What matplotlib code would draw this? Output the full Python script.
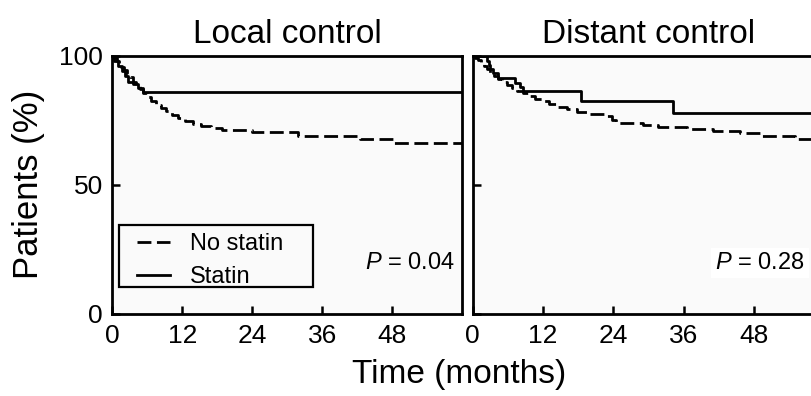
import matplotlib
matplotlib.use('Agg')
import matplotlib.pyplot as plt
from matplotlib.patches import Rectangle

plt.rcParams['font.family'] = ['Liberation Sans', 'DejaVu Sans']
plt.rcParams['mathtext.fontset'] = 'custom'
plt.rcParams['mathtext.rm'] = 'Liberation Sans'
plt.rcParams['mathtext.it'] = 'Liberation Sans:italic'

# follow-up end (months)
follow_up = 60

# Local control, Kaplan-Meier steps (months, % patients)
lc_nostatin_t = [0, 0.3, 0.7, 1.1, 1.5, 2.0, 2.5, 3.0, 3.5, 4.1, 4.7, 5.3, 6.0, 6.7, 7.5,
                 8.3, 9.2, 10.2, 11.3, 12.5, 13.8, 15.2, 17.0, 18.8, 24.0, 31.8, 42.5, 48.2]
lc_nostatin_s = [100, 99, 98, 96.8, 95.6, 94.4, 93.0, 91.6, 90.0, 88.5, 87.0, 85.5, 84.0, 82.5, 81.0,
                 79.7, 78.5, 77.2, 76.0, 74.8, 73.7, 72.8, 72.2, 71.2, 70.6, 68.8, 67.8, 66.1]
lc_statin_t = [0, 0.2, 1.0, 1.6, 2.1, 2.7, 3.6, 4.4, 5.3]
lc_statin_s = [100, 98, 96, 94, 92, 90, 89, 87.5, 86]

# Distant control
dc_nostatin_t = [0, 0.4, 0.9, 1.4, 1.9, 2.4, 3.0, 3.6, 4.3, 5.0, 5.8, 6.7, 7.6, 8.5, 9.5, 10.6,
                 11.8, 13.0, 14.5, 16.0, 17.8, 19.8, 22.5, 23.8, 24.4, 29.0, 31.5, 36.5, 41.0,
                 45.5, 49.0, 55.0]
dc_nostatin_s = [100, 99.3, 98.5, 97.3, 96.0, 94.8, 93.5, 92.3, 91.0, 89.8, 88.7, 87.6, 86.5, 85.4,
                 84.3, 83.3, 82.4, 81.4, 80.3, 79.3, 78.2, 77.5, 76.5, 75.0, 73.8, 73.0, 72.3,
                 71.5, 71.0, 70.0, 68.8, 67.6]
dc_statin_t = [0, 2.4, 2.7, 3.0, 3.5, 4.3, 7.2, 8.0, 8.6, 18.4, 34.1]
dc_statin_s = [100, 98, 96.5, 95, 93.5, 91.2, 89.3, 88, 86.3, 82.6, 77.7]

titles = ['Local control', 'Distant control']
p_values = ['0.04', '0.28']
xticks = [0, 12, 24, 36, 48]
yticks = [0, 50, 100]

fig = plt.figure(figsize=(8.12, 3.96), dpi=100)
ax1 = fig.add_axes([0.1385, 0.2071, 0.4304, 0.6522])
ax2 = fig.add_axes([0.5821, 0.2071, 0.4336, 0.6522])

curves = [(lc_nostatin_t, lc_nostatin_s, lc_statin_t, lc_statin_s),
          (dc_nostatin_t, dc_nostatin_s, dc_statin_t, dc_statin_s)]

for i, ax in enumerate([ax1, ax2]):
    nt, ns, st, ss = curves[i]
    ax.set_facecolor('#fafafa')
    ax.step(nt + [follow_up], ns + [ns[-1]], where='post', color='black', lw=2,
            dashes=(5.0, 2.0), label='No statin')
    ax.step(st + [follow_up], ss + [ss[-1]], where='post', color='black', lw=2,
            label='Statin')
    ax.set_xlim(0, follow_up)
    ax.set_ylim(0, 100)
    ax.set_xticks(xticks)
    ax.set_yticks(yticks)
    ax.tick_params(direction='in', length=6, width=1.8, labelsize=19, pad=7)
    for sp in ax.spines.values():
        sp.set_linewidth(2)
    ax.set_title(titles[i], fontsize=24, pad=9)

ax2.set_yticklabels([])
ax1.set_ylabel('Patients (%)', fontsize=25, labelpad=10)

ax1.text(0.98, 0.197, '$P$ = ' + p_values[0], transform=ax1.transAxes,
         ha='right', va='center', fontsize=17)
ax2.text(0.944, 0.197, '$P$ = ' + p_values[1], transform=ax2.transAxes,
         ha='right', va='center', fontsize=17,
         bbox=dict(facecolor='white', edgecolor='none', pad=3))

# legend box drawn separately so its size matches the original
ax1.add_patch(Rectangle((0.0186, 0.1045), 0.555, 0.240, transform=ax1.transAxes,
                        facecolor='#fafafa', edgecolor='black', lw=1.6, zorder=3))
leg = ax1.legend(loc='upper left', bbox_to_anchor=(0.07, 0.313), fontsize=17,
                 frameon=False, handlelength=1.4, handletextpad=0.85,
                 labelspacing=0.47, borderpad=0, borderaxespad=0)
leg.set_zorder(4)

fig.text(0.566, 0.055, 'Time (months)', ha='center', va='center', fontsize=24)

fig.savefig('out.png', dpi=100)
